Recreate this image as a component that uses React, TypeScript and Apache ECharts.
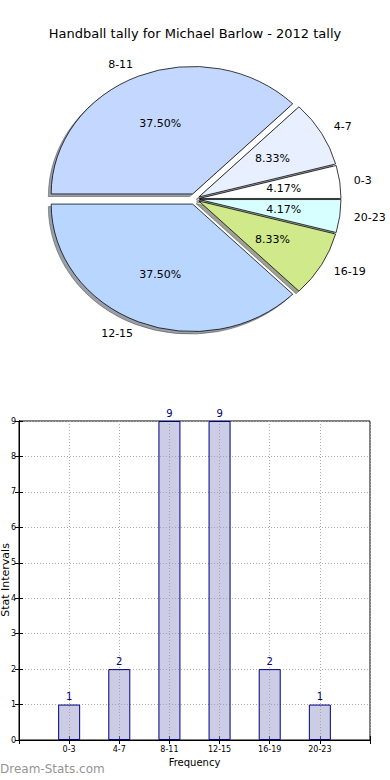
import React, { useEffect, useRef } from "react";
import * as echarts from "echarts";

const categories = ["0-3", "4-7", "8-11", "12-15", "16-19", "20-23"];
const tallies = [1, 2, 9, 9, 2, 1];
const sliceColors = ["#ffffff", "#e8f0ff", "#c4d8ff", "#b8d6ff", "#d0e98a", "#d8ffff"];
const explode = [0.032, 0.032, 0.043, 0.043, 0.032, 0.032];

const TITLE = "Handball tally for Michael Barlow - 2012 tally";
const Y_NAME = "Stat Intervals";
const X_NAME = "Frequency";
const FONT = "DejaVu Sans";

const PIE_CX = 195;
const PIE_CY = 199;
const RX = 141.5;
const RY = 127.5;

const total = tallies.reduce((a, b) => a + b, 0);
const cumulative: number[] = [];
tallies.reduce((acc, v, i) => {
  cumulative[i] = acc;
  return acc + v;
}, 0);

function darker(hex: string) {
  const n = parseInt(hex.slice(1), 16);
  const r = Math.round(((n >> 16) & 255) * 0.3);
  const g = Math.round(((n >> 8) & 255) * 0.3);
  const b = Math.round((n & 255) * 0.3);
  return `rgb(${r},${g},${b})`;
}

function geom(i: number, v: number) {
  const a0 = (cumulative[i] / total) * Math.PI * 2;
  const a1 = a0 + (v / total) * Math.PI * 2;
  const m = (a0 + a1) / 2;
  const ox = PIE_CX + explode[i] * RX * Math.cos(m);
  const oy = PIE_CY - explode[i] * RY * Math.sin(m);
  return { a0, a1, m, ox, oy };
}

const catLabel = (v: number) => {
  const idx = Math.round(v) - 1;
  return idx >= 0 && idx < categories.length ? categories[idx] : "";
};

export default function App() {
  const ref = useRef<HTMLDivElement>(null);
  useEffect(() => {
    if (!ref.current) return;
    const chart = echarts.init(ref.current, null, { renderer: "svg" });
    const xBase = {
      type: "value",
      min: 0,
      max: categories.length + 1,
      interval: 1,
    };
    const option: any = {
      animation: false,
      backgroundColor: "#ffffff",
      textStyle: { fontFamily: FONT },
      title: {
        text: TITLE,
        left: "center",
        top: 22,
        textStyle: { fontSize: 13, fontWeight: "normal", color: "#000", fontFamily: FONT },
      },
      graphic: [
        {
          type: "text",
          left: 0,
          top: 763,
          style: { text: "Dream-Stats.com", fontSize: 12, fontFamily: FONT, fill: "#959595" },
        },
        {
          type: "text",
          x: 5.5,
          y: 580,
          rotation: Math.PI / 2,
          style: {
            text: Y_NAME,
            fontSize: 11,
            fontFamily: FONT,
            fill: "#000",
            align: "center",
            verticalAlign: "middle",
          },
        },
      ],
      grid: {
        left: 19,
        right: 20,
        top: 421,
        bottom: 40,
        containLabel: false,
        outerBoundsMode: "none",
        show: true,
        borderColor: "#000",
        borderWidth: 1,
        backgroundColor: "transparent",
      },
      xAxis: [
        {
          ...xBase,
          position: "bottom",
          axisLine: { lineStyle: { color: "#000", width: 1 } },
          axisTick: { inside: true, length: 4, lineStyle: { color: "#000" } },
          axisLabel: {
            fontSize: 8,
            color: "#000",
            margin: 5,
            fontFamily: FONT,
            formatter: (v: number) => catLabel(v),
          },
          splitLine: { show: true, lineStyle: { color: "#aaa", type: [1, 2], width: 1 } },
          name: X_NAME,
          nameLocation: "middle",
          nameGap: 17,
          nameTextStyle: { fontSize: 10, color: "#000", fontFamily: FONT },
        },
        {
          ...xBase,
          position: "top",
          axisLine: { lineStyle: { color: "#000", width: 1 } },
          axisTick: { inside: true, length: 4, lineStyle: { color: "#000" } },
          axisLabel: { show: false },
          splitLine: { show: false },
        },
      ],
      yAxis: [
        {
          type: "value",
          min: 0,
          max: 9,
          interval: 1,
          position: "left",
          axisLine: { show: true, lineStyle: { color: "#000", width: 1 } },
          axisTick: { show: true, inside: true, length: 4, lineStyle: { color: "#000" } },
          axisLabel: { fontSize: 8, color: "#000", margin: 3, fontFamily: FONT },
          splitLine: { show: true, lineStyle: { color: "#aaa", type: [1, 2], width: 1 } },
        },
        {
          type: "value",
          min: 0,
          max: 9,
          interval: 1,
          position: "right",
          axisLine: { show: true, lineStyle: { color: "#000", width: 1 } },
          axisTick: { show: true, inside: true, length: 4, lineStyle: { color: "#000" } },
          axisLabel: { show: false },
          splitLine: { show: false },
        },
      ],
      series: [
        {
          type: "custom",
          name: "shadow",
          coordinateSystem: "none",
          silent: true,
          z: 1,
          data: tallies.map((v) => [v]),
          renderItem: (params: any, api: any) => {
            const i = params.dataIndex;
            const v = api.value(0);
            const g = geom(i, v);
            const c = darker(sliceColors[i]);
            return {
              type: "sector",
              x: g.ox - 0.02 * RX,
              y: g.oy + 0.02 * RY,
              scaleY: RY / RX,
              shape: { cx: 0, cy: 0, r: RX, r0: 0, startAngle: -g.a1, endAngle: -g.a0, clockwise: true },
              style: { fill: c, stroke: c, lineWidth: 1, strokeNoScale: true, opacity: 0.5 },
            };
          },
        },
        {
          type: "custom",
          name: "wedges",
          coordinateSystem: "none",
          silent: true,
          z: 2,
          data: tallies.map((v) => [v]),
          renderItem: (params: any, api: any) => {
            const i = params.dataIndex;
            const v = api.value(0);
            const g = geom(i, v);
            const pct = ((v / total) * 100).toFixed(2) + "%";
            const cm = Math.cos(g.m);
            const sm = Math.sin(g.m);
            return {
              type: "group",
              children: [
                {
                  type: "sector",
                  x: g.ox,
                  y: g.oy,
                  scaleY: RY / RX,
                  shape: { cx: 0, cy: 0, r: RX, r0: 0, startAngle: -g.a1, endAngle: -g.a0, clockwise: true },
                  style: { fill: sliceColors[i], stroke: "#000", lineWidth: 0.8, strokeNoScale: true },
                },
                {
                  type: "text",
                  z2: 10,
                  x: g.ox + 0.6 * RX * cm,
                  y: g.oy - 0.6 * RY * sm,
                  style: {
                    text: pct,
                    fontSize: 11,
                    fontFamily: FONT,
                    fill: "#000",
                    align: "center",
                    verticalAlign: "middle",
                  },
                },
                {
                  type: "text",
                  z2: 10,
                  x: g.ox + 1.1 * RX * cm,
                  y: g.oy - 1.1 * RY * sm,
                  style: {
                    text: categories[i],
                    fontSize: 11,
                    fontFamily: FONT,
                    fill: "#000",
                    align: cm >= 0 ? "left" : "right",
                    verticalAlign: "middle",
                  },
                },
              ],
            };
          },
        },
        {
          type: "bar",
          name: "tally",
          xAxisIndex: 0,
          yAxisIndex: 0,
          data: tallies.map((v, i) => [i + 1, v]),
          barWidth: 22,
          itemStyle: { color: "rgba(153,153,204,0.5)", borderColor: "#000080", borderWidth: 1 },
          label: {
            show: true,
            position: "top",
            distance: 3,
            fontSize: 10,
            color: "#000080",
            fontFamily: FONT,
            formatter: (p: any) => String(p.value[1]),
          },
          silent: true,
        },
      ],
    };
    chart.setOption(option);
    return () => chart.dispose();
  }, []);
  return (
    <div
      ref={ref}
      style={{ position: "fixed", left: 0, top: 0, width: 390, height: 780, background: "#fff" }}
    />
  );
}
